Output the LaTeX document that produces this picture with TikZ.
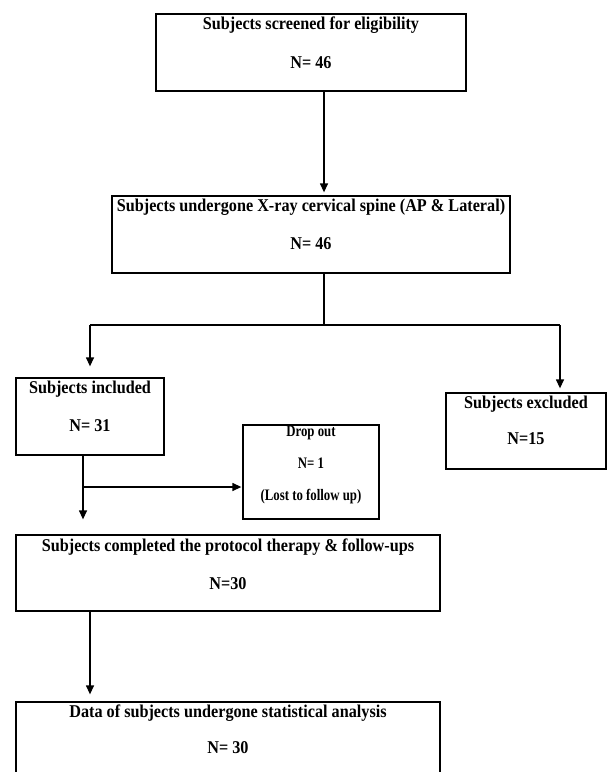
\documentclass[tikz,border=0pt]{standalone}
\usepackage{fontspec}
\setmainfont{Liberation Serif}
\newfontfamily\bigfont[FakeStretch=0.9]{Liberation Serif}
\newfontfamily\smallfont[FakeStretch=0.8]{Liberation Serif}
\usetikzlibrary{arrows.meta,fit}
\begin{document}
\begin{tikzpicture}[x=1pt,y=-1pt,
  box/.style={draw, line width=1.3pt, inner sep=0pt, rectangle},
  txt/.style={font=\bigfont\fontsize{18}{20}\selectfont\bfseries, inner sep=0pt, anchor=base},
  stxt/.style={font=\smallfont\fontsize{16}{18}\selectfont\bfseries, inner sep=0pt, anchor=base},
  conn/.style={line width=1.3pt},
  arr/.style={conn, -{Triangle[length=9pt,width=8pt]}}]
\useasboundingbox (0,0) rectangle (608,772);
\clip (0,0) rectangle (608,772);
% boxes
\node[box, fit={(156,14) (466,91)}] (b1) {};
\node[box, fit={(112,196) (510,273)}] (b2) {};
\node[box, fit={(16,378) (164,455)}] (b3) {};
\node[box, fit={(446,393) (606,469)}] (b4) {};
\node[box, fit={(243,425) (379,519)}] (b5) {};
\node[box, fit={(16,535) (440,611)}] (b6) {};
\node[box, fit={(16,702) (440,800)}] (b7) {};
% texts
\node[txt] (t1a) at (311,29) {Subjects screened for eligibility};
\node[txt] (t1b) at (311,68) {N= 46};
\node[txt] (t2a) at (311,211) {Subjects undergone X-ray cervical spine (AP \& Lateral)};
\node[txt] (t2b) at (311,249) {N= 46};
\node[txt] (t3a) at (90,393) {Subjects included};
\node[txt] (t3b) at (90,431) {N= 31};
\node[txt] (t4a) at (526,408) {Subjects excluded};
\node[txt] (t4b) at (526,444) {N=15};
\node[stxt] (t5a) at (311,436) {Drop out};
\node[stxt] (t5b) at (311,468) {N= 1};
\node[stxt] (t5c) at (311,500) {(Lost to follow up)};
\node[txt] (t6a) at (228,551) {Subjects completed the protocol therapy \& follow-ups};
\node[txt] (t6b) at (228,589) {N=30};
\node[txt] (t7a) at (228,717) {Data of subjects undergone statistical analysis};
\node[txt] (t7b) at (228,753) {N= 30};
% connectors
\coordinate (c1) at (324,325);
\coordinate (cL) at (90,325);
\coordinate (cR) at (560,325);
\coordinate (c3) at (83,487);
\coordinate (c5) at (90,650);
\draw[arr, shorten >=3pt] (b1.south -| c1) -- (b2.north -| c1);
\draw[conn] (b2.south -| c1) -- (c1);
\draw[conn] (cL) -- (cR);
\draw[arr, shorten >=11pt] (cL) -- (b3.north -| cL);
\draw[arr, shorten >=4pt] (cR) -- (b4.north -| cR);
\draw[arr, shorten >=15pt] (b3.south -| c3) -- (b6.north -| c3);
\draw[arr, shorten >=1pt] (c3) -- (b5.west |- c3);
\draw[arr, shorten >=7pt] (b6.south -| c5) -- (b7.north -| c5);
\end{tikzpicture}
\end{document}
